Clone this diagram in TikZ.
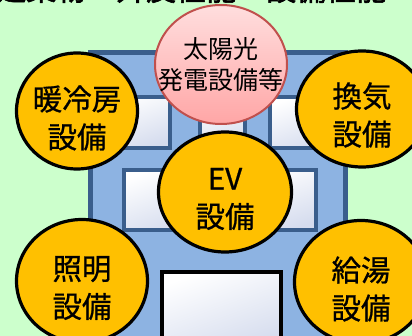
\documentclass[tikz,border=0pt]{standalone}
\usepackage{fontspec}
\setmainfont{Noto Sans CJK JP}
\newfontfamily\jpheavy{Noto Sans CJK JP}[FakeBold=0.8]
\newfontfamily\jptitle{Noto Sans CJK JP}[FakeBold=2]
\usetikzlibrary{shapes.geometric}
\definecolor{bgGreen}{HTML}{CCFFCC}
\definecolor{bldFill}{HTML}{8DB3E2}
\definecolor{bldEdge}{HTML}{3A5E8C}
\definecolor{glassBlue}{HTML}{D5DCEE}
\definecolor{eqYellow}{HTML}{FFC000}
\definecolor{solarTop}{HTML}{FFDEDE}
\definecolor{solarBot}{HTML}{FFA6A6}
\definecolor{solarEdge}{HTML}{C0504D}
\tikzset{
  winbox/.style={draw=bldEdge, line width=4pt, top color=white, bottom color=glassBlue, shading angle=20},
  doorbox/.style={draw=black, line width=4pt, top color=white, bottom color=glassBlue, shading angle=20},
  equip/.style={ellipse, draw=black, line width=3.2pt, fill=eqYellow, inner sep=0pt},
  equiptext/.style={align=center, text=black, font=\jpheavy\fontsize{29.5pt}{38pt}\selectfont},
  solarnode/.style={ellipse, draw=solarEdge, line width=2pt, top color=solarTop, bottom color=solarBot, inner sep=0pt},
  solartext/.style={align=center, text=black, font=\fontsize{25pt}{31pt}\selectfont},
}
\begin{document}
\begin{tikzpicture}[x=1pt, y=-1pt]
\useasboundingbox (0,0) rectangle (412,336);
\clip (0,0) rectangle (412,336);
\fill[bgGreen] (0,0) rectangle (412,336);

% heading, only its lower edge falls inside the frame
\node[anchor=base west, inner sep=0pt, font=\jptitle\fontsize{30pt}{30pt}\selectfont] (title) at (-4,0.5) {建築物・外皮性能・設備性能};

% building body
\draw[draw=bldEdge, fill=bldFill, line width=5pt] (90.5,52.5) rectangle (345.5,350);

% upper row of windows
\draw[winbox] (102,97) rectangle (170,148);
\draw[winbox] (200,97) rectangle (245,148);
\draw[winbox] (270,97) rectangle (338,148);
% lower row of windows
\draw[winbox] (124,170) rectangle (198,230);
\draw[winbox] (242,170) rectangle (316,230);
% entrance
\draw[doorbox] (162,272) rectangle (281,350);

% equipment bubbles
\node[equip, minimum width=131pt, minimum height=123pt,
      label={[equiptext, yshift=-7pt]center:{照明\\設備}}] (lighting) at (82,281) {};
\node[equip, minimum width=133pt, minimum height=123pt,
      label={[equiptext, yshift=-7pt]center:{給湯\\設備}}] (hotwater) at (361,282) {};
\node[equip, minimum width=121pt, minimum height=116pt,
      label={[equiptext, yshift=-7pt]center:{暖冷房\\設備}}] (hvac) at (77,111) {};
\node[equip, minimum width=131pt, minimum height=116pt,
      label={[equiptext, yshift=-6pt]center:{換気\\設備}}] (vent) at (362,109) {};
\node[equip, minimum width=133pt, minimum height=120pt,
      label={[equiptext, yshift=-7pt]center:{EV\\設備}}] (ev) at (225,192) {};
\node[solarnode, minimum width=132pt, minimum height=119pt,
      label={[solartext]center:{太陽光\\発電設備等}}] (solar) at (221,64.5) {};
\end{tikzpicture}
\end{document}
